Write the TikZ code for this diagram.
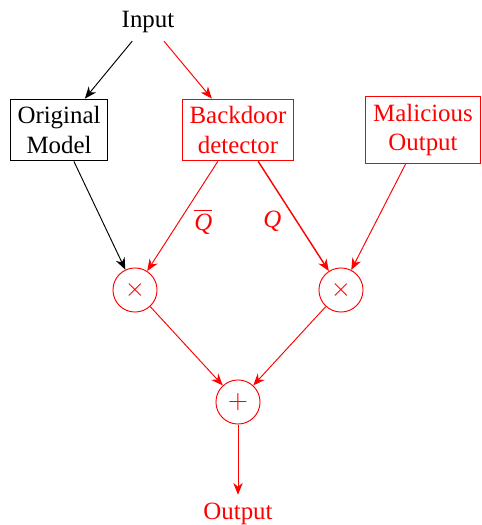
\documentclass[tikz,border=0pt]{standalone}
\usepackage{fontspec}
\setmainfont{Liberation Serif}
\usetikzlibrary{positioning,arrows.meta}

\begin{document}
\begin{tikzpicture}[x=0.422pt,y=-0.422pt,
	>={Stealth[length=5pt,width=4pt,inset=1.6pt]},
	font=\fontsize{10.5}{12.5}\selectfont,
	blockbox/.style={draw, align=center, inner sep=3.1pt},
	opnode/.style={draw, circle, minimum size=18.6pt, inner sep=0pt},
	bad/.style={red}]
\useasboundingbox (0,0) rectangle (482,525);
\node (input) at (148,22) {Input};
\node[blockbox] (model) at (59,130) {Original\\Model};
\node[blockbox, bad] (detector) at (238,130) {Backdoor\\detector};
\node[blockbox, bad] (malicious) at (423,130) {Malicious\\Output};
\node[opnode, bad] (mulA) at (135,290) {$\times$};
\node[opnode, bad] (mulB) at (341,290) {$\times$};
\node[opnode, bad] (sum) at (238,402) {$+$};
\node[bad] (output) at (238,514) {Output};
%\draw[help lines] (0,0) grid (482,525);
\draw[->] (input) -- (model);
\draw[->, bad] (input) -- (detector);
\draw[->] (model) -- (mulA);
\draw[->, bad] (detector) -- node[pos=0.55, right=3pt] {$\overline{\textit{Q}}$} (mulA);
\draw[->, bad, semithick] (detector) -- node[pos=0.55, left=3pt] {\textit{Q}} (mulB);
\draw[->, bad] (malicious) -- (mulB);
\draw[->, bad] (mulA) -- (sum);
\draw[->, bad] (mulB) -- (sum);
\draw[->, bad] (sum) -- (output);
\end{tikzpicture}
\end{document}
